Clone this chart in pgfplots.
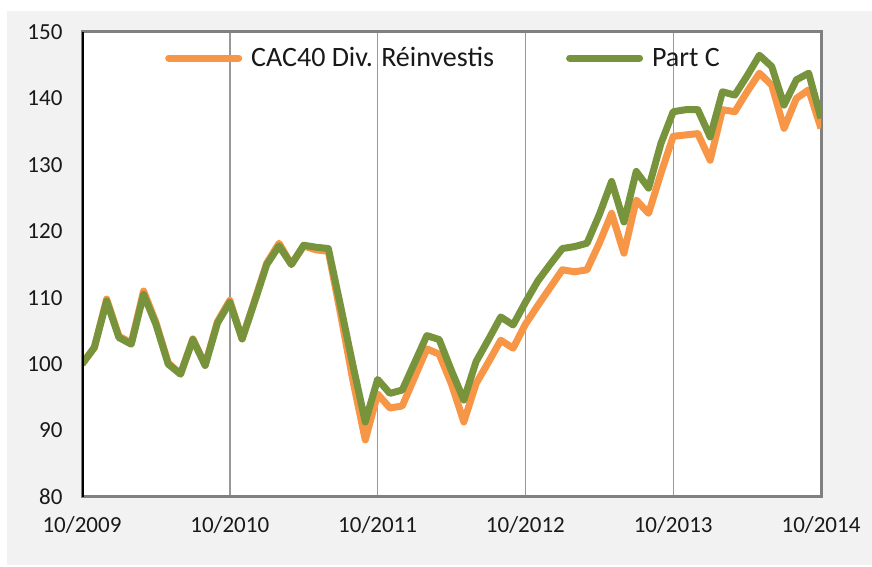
\documentclass[border=0pt]{standalone}
\usepackage{pgfplots}
\pgfplotsset{compat=1.18}
\usepackage{fontspec}
\setmainfont{Carlito}
\definecolor{cacorange}{HTML}{F79646}
\definecolor{partgreen}{HTML}{77933C}
\definecolor{bggray}{HTML}{F2F2F2}
\definecolor{framegray}{HTML}{808080}
\definecolor{gridgray}{HTML}{999999}
\begin{document}
\begin{tikzpicture}[x=1pt,y=1pt]
\fill[white] (0,0) rectangle (872,567);
\fill[bggray] (7,2) rectangle (872,556);
\begin{axis}[
  at={(82pt,70pt)}, anchor=south west,
  scale only axis, width=739pt, height=465pt,
  xmin=0, xmax=60, ymin=80, ymax=150,
  xtick={0,12,24,36,48,60},
  xticklabels={10/2009,10/2010,10/2011,10/2012,10/2013,10/2014},
  ytick={80,90,100,110,120,130,140,150},
  major tick length=0pt,
  xmajorgrids, ymajorgrids=false,
  grid style={gridgray, line width=1.4pt},
  axis background/.style={fill=white},
  axis line style={framegray, line width=3pt},
  /pgf/number format/assume math mode=true,
  tick label style={font=\fontsize{23}{26}\selectfont, text=black!90},
  yticklabel style={xshift=-16pt},
  xticklabel style={yshift=-16pt},
  legend style={draw=none, fill=none, inner sep=0pt,
    at={(rel axis cs:0.1123,0.944)}, anchor=west,
    font=\fontsize{28}{31}\selectfont,
    nodes={inner sep=2pt, text=black!90},
    /tikz/every odd column/.append style={column sep=7pt},
    /tikz/every even column/.append style={column sep=70pt}},
  legend cell align=left,
  legend columns=2,
  legend image code/.code={\draw[#1, line width=7pt, line cap=round] (0pt,0pt) -- (70pt,0pt);},
]
\addplot[cacorange, line width=7pt, line join=round] coordinates {
(0,100) (1,102.5) (2,109.8) (3,104.2) (4,103.2) (5,111) (6,106.3) (7,100.2) (8,98.5) (9,103.8)
(10,99.9) (11,106.4) (12,109.6) (13,103.8) (14,109.5) (15,115.2) (16,118.2) (17,115) (18,117.8) (19,117.2)
(20,117) (21,107.5) (22,97.5) (23,88.6) (24,95.5) (25,93.4) (26,93.7) (27,98) (28,102.3) (29,101.5)
(30,97) (31,91.3) (32,97.1) (33,100.3) (34,103.6) (35,102.4) (36,106) (37,108.8) (38,111.5) (39,114.2)
(40,113.9) (41,114.2) (42,118.2) (43,122.7) (44,116.7) (45,124.7) (46,122.7) (47,128.7) (48,134.3) (49,134.5)
(50,134.7) (51,130.7) (52,138.3) (53,138) (54,141) (55,143.8) (56,142) (57,135.5) (58,140) (59,141.3)
(60,135.5)
};
\addlegendentry{CAC40 Div. Réinvestis}
\addplot[partgreen, line width=7pt, line join=round] coordinates {
(0,100) (1,102.5) (2,109.5) (3,104) (4,103) (5,110.5) (6,106) (7,100) (8,98.5) (9,103.7)
(10,99.8) (11,106.2) (12,109.3) (13,103.8) (14,109.3) (15,115) (16,117.8) (17,115) (18,117.9) (19,117.6)
(20,117.4) (21,108.7) (22,99.8) (23,91.3) (24,97.7) (25,95.6) (26,96.1) (27,100.2) (28,104.3) (29,103.7)
(30,99) (31,94.6) (32,100.4) (33,103.7) (34,107.1) (35,105.9) (36,109.3) (37,112.5) (38,115) (39,117.4)
(40,117.7) (41,118.2) (42,122.5) (43,127.5) (44,121.4) (45,129) (46,126.5) (47,133.2) (48,138) (49,138.3)
(50,138.3) (51,134.2) (52,141) (53,140.5) (54,143.4) (55,146.5) (56,144.8) (57,139) (58,142.8) (59,143.8)
(60,137)
};
\addlegendentry{Part C}
\draw[black, line width=3pt] (rel axis cs:0,0) -- (rel axis cs:0,1);
\end{axis}
\end{tikzpicture}
\end{document}
